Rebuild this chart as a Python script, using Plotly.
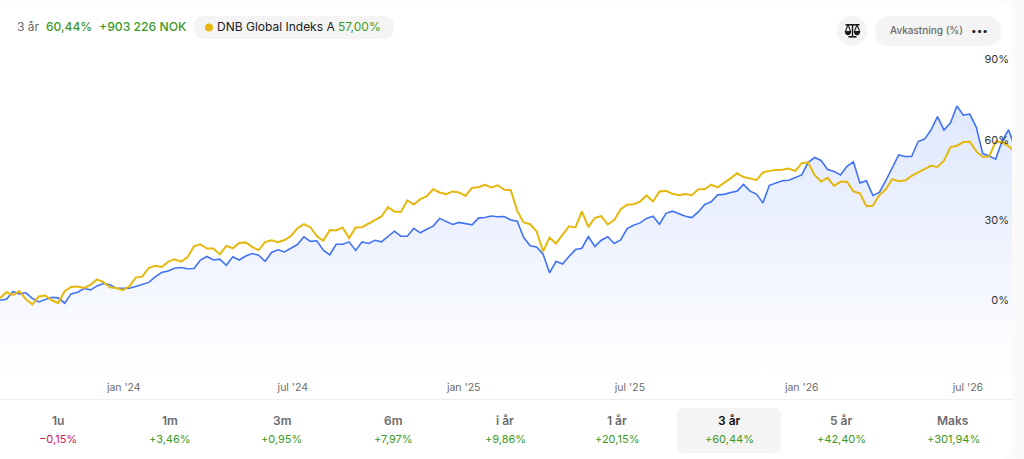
import plotly.graph_objects as go
import pandas as pd

fund_returns = [
-0.2,0.2,3.1,2.2,2.6,0.5,-0.8,0.2,0.9,0.7,-1.3,2.2,2.8,4.2,3.7,5.2,6.1,5.6,4.3,4.3,4.3,5.0,5.8,6.5,8.6,10.2,10.8,11.8,12.1,11.6,
11.7,14.9,16.2,14.9,15.2,12.9,16.1,14.9,16.4,17.3,16.7,14.4,17.7,18.7,17.9,19.2,20.7,23.6,21.9,22.1,18.6,16.8,20.8,
20.8,21.7,18.5,21.7,21.1,22.3,21.7,23.6,25.7,23.8,23.8,26.8,25.1,26.4,27.6,30.5,29.2,28.2,29.0,28.6,28.1,30.6,30.8,31.4,31.1,31.2,
29.9,29.4,23.3,20.2,19.8,17.1,10.1,14.4,13.4,16.2,18.8,19.3,23.7,20.0,22.3,23.6,21.1,22.4,26.7,27.9,28.8,30.5,31.3,28.3,32.4,33.2,32.3,
31.3,30.8,32.9,35.7,36.7,39.3,39.5,40.2,40.7,43.2,40.7,39.6,36.3,42.9,43.8,44.6,44.8,45.7,46.8,51.5,53.3,52.2,48.8,48.1,46.8,50.0,51.7,
43.8,44.6,39.1,40.2,44.6,49.6,54.3,53.7,53.7,59.3,60.2,63.6,68.6,63.6,66.2,72.6,69.2,69.6,64.6,54.8,53.9,52.7,59.6,63.7,56.8]

index_returns = [
0.6,2.8,1.8,3.2,0.2,-1.7,1.2,1.6,-0.1,-1.3,3.2,4.8,5.0,4.4,5.6,7.6,6.6,4.7,4.4,3.6,5.0,8.3,8.7,11.9,12.7,12.3,14.2,15.2,14.3,15.9,
20.0,20.8,19.2,19.2,17.0,20.2,19.3,21.3,21.5,19.8,18.6,21.6,22.3,21.6,22.4,23.9,26.8,28.3,27.2,23.9,22.1,26.1,26.0,
27.1,23.1,27.1,27.2,28.6,29.8,31.2,34.7,33.1,32.9,37.2,35.7,37.7,38.8,41.4,40.2,39.6,40.6,40.2,38.9,41.9,42.2,43.1,42.1,42.9,41.2,
41.1,33.3,29.0,28.3,25.6,18.1,23.3,21.1,24.3,27.5,27.1,33.1,27.2,30.7,31.3,28.2,29.9,33.9,35.6,35.8,36.8,39.1,36.8,40.6,40.8,39.7,39.2,
39.6,39.2,41.4,41.4,43.1,42.1,43.7,45.5,47.4,46.0,45.5,44.8,47.7,48.3,48.6,48.7,49.2,48.2,51.2,51.5,46.7,44.3,45.7,42.7,44.2,44.2,40.6,
39.9,35.1,35.2,39.2,41.4,45.2,44.4,44.7,46.4,47.7,49.1,50.2,49.8,52.1,57.1,57.7,59.1,59.2,55.6,53.6,53.7,59.3,59.0,57.6,55.3]

n = min(len(fund_returns), len(index_returns))
dates = pd.date_range("2023-08-21", periods=n, freq="7D")
floor_level = [-28.2] * n

y_tick_vals = [0, 30, 60, 90]
y_tick_text = ["0%", "30%", "60%", "90%"]
x_tick_vals = ["2024-01-02", "2024-07-03", "2025-01-04", "2025-07-03", "2026-01-05", "2026-07-04"]
x_tick_text = ["jan '24", "jul '24", "jan '25", "jul '25", "jan '26", "jul '26"]

period_labels = ["1u", "1m", "3m", "6m", "i år", "1 år", "3 år", "5 år", "Maks"]
period_values = ["−0,15%", "+3,46%", "+0,95%", "+7,97%", "+9,86%", "+20,15%", "+60,44%", "+42,40%", "+301,94%"]
period_centers = [58, 170, 281.5, 393, 505, 617, 729, 841, 953]

W, H = 1024, 459
FONT = "Inter"
GREEN = "#3d9a1f"
RED = "#d0145a"
GREY = "#6b6b6b"
PILL = "#f4f4f4"
INK = "#1a1a1a"
px = lambda v: v / W
py = lambda v: 1 - v / H


def rrect(x0, y0, x1, y1, r, fill, layer="below"):
    X0, X1 = px(x0), px(x1)
    Y0, Y1 = py(y0), py(y1)
    rx, ry = r / W, r / H
    path = (f"M{X0+rx},{Y0} L{X1-rx},{Y0} Q{X1},{Y0} {X1},{Y0-ry} L{X1},{Y1+ry} Q{X1},{Y1} {X1-rx},{Y1} "
            f"L{X0+rx},{Y1} Q{X0},{Y1} {X0},{Y1+ry} L{X0},{Y0-ry} Q{X0},{Y0} {X0+rx},{Y0} Z")
    return dict(type="path", xref="paper", yref="paper", path=path, fillcolor=fill,
                line=dict(width=0), layer=layer)


def pan(cx, y, r):
    path = (f"M{px(cx-r)},{py(y)} L{px(cx+r)},{py(y)} Q{px(cx+r)},{py(y+r*1.3)} {px(cx)},{py(y+r*1.3)} "
            f"Q{px(cx-r)},{py(y+r*1.3)} {px(cx-r)},{py(y)} Z")
    return dict(type="path", xref="paper", yref="paper", path=path, fillcolor=INK, line=dict(width=0))


def box(x0, y0, x1, y1, fill=INK):
    return dict(type="rect", xref="paper", yref="paper", x0=px(x0), x1=px(x1), y0=py(y1), y1=py(y0),
                fillcolor=fill, line=dict(width=0))


def seg(x0, y0, x1, y1, w=1.1):
    return dict(type="line", xref="paper", yref="paper", x0=px(x0), x1=px(x1), y0=py(y0), y1=py(y1),
                line=dict(color=INK, width=w))


def txt(x, y, s, size=12, color=GREY, anchor="left", weight=400, family=FONT):
    return dict(xref="paper", yref="paper", x=px(x), y=py(y), text=s, showarrow=False, xanchor=anchor,
                yanchor="middle", font=dict(family=family, size=size, color=color, weight=weight),
                borderpad=0, borderwidth=0)


fig = go.Figure()
fig.add_trace(go.Scatter(x=dates, y=floor_level[:n], mode="lines", line=dict(width=0), hoverinfo="skip", showlegend=False))
fig.add_trace(go.Scatter(
    x=dates, y=fund_returns[:n], mode="lines", name="Fond", line=dict(color="#3f72f5", width=1.6, shape="linear"),
    fill="tonexty",
    fillgradient=dict(type="vertical", start=72, stop=-28.2,
                      colorscale=[[0, "#dfe8fc"], [0.5, "#eff3fe"], [1, "#ffffff"]]),
    showlegend=False))
fig.add_trace(go.Scatter(
    x=dates, y=index_returns[:n], mode="lines", name="DNB Global Indeks A",
    line=dict(color="#e6b80f", width=2), showlegend=False))

shapes = [
    rrect(-20, 1, 1012, 459, 10, "#ffffff"),
    dict(type="line", xref="paper", yref="paper", x0=0, x1=px(1012), y0=py(399.5), y1=py(399.5),
         line=dict(color="#eeeeee", width=1), layer="below"),
    rrect(677, 408, 781, 453, 8, PILL),
    rrect(194, 16, 394, 39, 11.5, PILL),
    rrect(875, 16, 1001, 46, 15, PILL),
    dict(type="circle", xref="paper", yref="paper", x0=px(837), x1=px(867), y0=py(46), y1=py(16),
         fillcolor=PILL, line=dict(width=0), layer="below"),
    dict(type="circle", xref="paper", yref="paper", x0=px(205), x1=px(213), y0=py(31.5), y1=py(23.5),
         fillcolor="#e6b80f", line=dict(width=0)),
    # balance-scale icon
    box(845.5, 24, 859.5, 25.6),
    box(851.8, 24, 853.2, 36.5),
    box(848.5, 36, 856.5, 37.6),
    seg(848, 25, 845.5, 31),
    seg(848, 25, 850.5, 31),
    seg(857, 25, 854.5, 31),
    seg(857, 25, 859.5, 31),
    pan(848, 31, 3.2),
    pan(857, 31, 3.2),
]

ann = [
    txt(17, 26.5, "3 år", 12, GREY),
    txt(46, 26.5, "60,44%", 12, GREEN, weight=500),
    txt(99, 26.5, "+903 226 NOK", 12.2, GREEN, weight=500),
    txt(217, 26.5, "DNB Global Indeks A", 12, "#222222"),
    txt(338, 26.5, "57,00%", 12, GREEN),
    txt(890, 30, "Avkastning (%)", 10, GREY, weight=500),
    txt(979, 30, "•••", 10, "#222222", anchor="center"),
]
for i, (lab, val, c) in enumerate(zip(period_labels, period_values, period_centers)):
    ann.append(txt(c, 420.5, lab, 12, "#111111" if lab == "3 år" else GREY, anchor="center", weight=600))
    ann.append(txt(c, 439, val, 11, RED if val.startswith("−") else GREEN, anchor="center"))

fig.update_layout(
    width=W, height=H, autosize=False,
    margin=dict(l=0, r=0, t=0, b=0),
    paper_bgcolor="#fafafa", plot_bgcolor="rgba(0,0,0,0)",
    shapes=shapes, annotations=ann, showlegend=False,
    font=dict(family=FONT),
    xaxis=dict(domain=[0, px(1012)], type="date",
               range=["2023-08-21", "2026-08-20 16:00"], tickmode="array", tickvals=x_tick_vals, ticktext=x_tick_text,
               showgrid=False, zeroline=False, showline=False, ticks="", ticklabelstandoff=4,
               tickfont=dict(family=FONT, size=10.5, color=GREY)),
    yaxis=dict(domain=[py(375), py(50)], range=[-28.2, 93.6], side="right", tickmode="array",
               tickvals=y_tick_vals, ticktext=y_tick_text, showgrid=False, zeroline=False, showline=False,
               ticks="", ticklabelposition="inside", tickfont=dict(family=FONT, size=11, color="#333333")),
)
fig.write_html("out.html", config=dict(displayModeBar=False),
               post_script="document.body.style.margin='0';document.documentElement.style.overflow='hidden';")
